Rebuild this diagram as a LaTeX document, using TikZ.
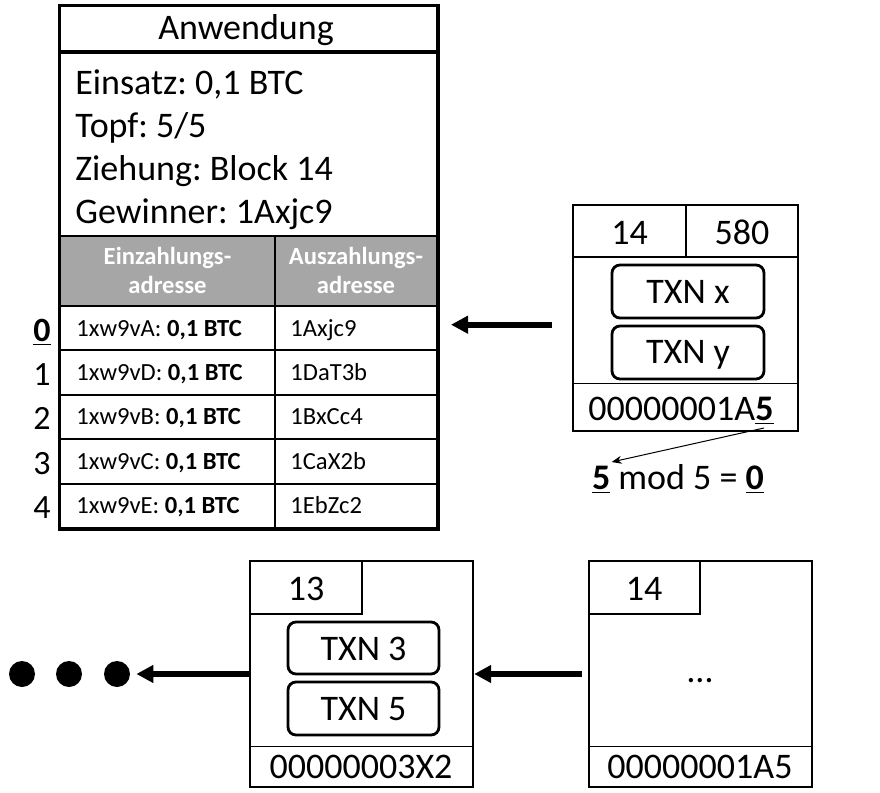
\documentclass[tikz,border=0pt]{standalone}
\usepackage{fontspec}
\setmainfont{Carlito}
\usetikzlibrary{fit,arrows.meta}
\definecolor{headgray}{RGB}{166,166,166}
\newcommand{\bigtext}{\fontsize{18}{21}\selectfont}
\newcommand{\idxtext}{\fontsize{17}{20}\selectfont}
\newcommand{\smalltext}{\fontsize{12.3}{14.5}\selectfont}
\frenchspacing

\begin{document}
\begin{tikzpicture}[x=0.5pt, y=-0.5pt,
    frame/.style={draw, line width=1.2pt, inner sep=0pt},
    cell/.style={draw, line width=1pt, inner sep=0pt},
    rule/.style={line width=0.5pt},
    txn/.style={draw, line width=1.4pt, rounded corners=4pt, inner sep=0pt},
    txt/.style={font=\bigtext, inner sep=0pt, anchor=base},
    headtxt/.style={txt, font=\smalltext\bfseries, text=white},
    link/.style={-{Triangle[length=8.5pt, width=8.5pt]}, line width=3pt},
    hint/.style={-{Stealth[length=5pt, width=4pt]}, line width=0.5pt},
    dot/.style={circle, fill, inner sep=0pt, minimum size=13pt}]

    \useasboundingbox (0,0) rectangle (880,793);

    % Anwendung
    \node[cell, fit={(60,6) (437,51)}] (title) {};
    \node[txt] (titletxt) at (246,39) {Anwendung};
    \node[cell, fit={(60,51) (437,236)}] (info) {};
    \node[txt, anchor=base west] (einsatz) at (75,94) {Einsatz: 0,1 BTC};
    \node[txt, anchor=base west] (topf) at (75,137) {Topf: 5/5};
    \node[txt, anchor=base west] (ziehung) at (75,180) {Ziehung: Block 14};
    \node[txt, anchor=base west] (gewinner) at (75,223) {Gewinner: 1Axjc9};
    \node[cell, fill=headgray, fit={(60,236) (275,306)}] (headin) {};
    \node[cell, fill=headgray, fit={(275,236) (437,306)}] (headout) {};
    \node[headtxt] (headin1) at (167.5,264) {Einzahlungs-};
    \node[headtxt] (headin2) at (167.5,293) {adresse};
    \node[headtxt] (headout1) at (356,264) {Auszahlungs-};
    \node[headtxt] (headout2) at (356,293) {adresse};
    \foreach \a/\b/\idx [count=\n from 0] in {A/1Axjc9/\underline{\textbf{0}},
        D/1DaT3b/1, B/1BxCc4/2, C/1CaX2b/3, E/1EbZc2/4} {
        \pgfmathsetmacro{\rowtop}{306+44.4*\n}
        \pgfmathsetmacro{\rowbot}{\rowtop+44.4}
        \pgfmathsetmacro{\rowbase}{\rowtop+30}
        \pgfmathsetmacro{\idxbase}{\rowtop+35}
        \node[cell, fit={(60,\rowtop) (275,\rowbot)}] (in\n) {};
        \node[cell, fit={(275,\rowtop) (437,\rowbot)}] (out\n) {};
        \node[txt, font=\smalltext, anchor=base west] (inaddr\n) at (76,\rowbase) {1xw9v\a: \textbf{0,1 BTC}};
        \node[txt, font=\smalltext, anchor=base west] (outaddr\n) at (290,\rowbase) {\b};
        \node[txt, font=\idxtext] (idx\n) at (42,\idxbase) {\idx};
    }
    \draw[line width=1.5pt] (title.north west) rectangle (out4.south east);
    \draw[line width=1.5pt] (title.south west) -- (title.south east);

    % block 14 (oben)
    \node[cell, fit={(573,205) (686,257)}] (numcellA) {};
    \node[cell, fit={(686,205) (798,257)}] (noncecellA) {};
    \node[frame, fit={(573,205) (798,431)}] (blkA) {};
    \node[txt] (numA) at (629.5,244) {14};
    \node[txt] (nonceA) at (742,244) {580};
    \node[txn, fit={(612,265) (764,318)}] (txnx) {};
    \node[txt] (txnxtxt) at (688,303) {TXN x};
    \node[txn, fit={(612,326) (764,379)}] (txny) {};
    \node[txt] (txnytxt) at (688,363) {TXN y};
    \draw[rule] (573,383) -- (798,383);
    \node[txt] (hashA) at (681,420) {00000001A\underline{\textbf{5}}};
    \node[txt] (modtxt) at (678,489) {\underline{\textbf{5}} mod 5 = \underline{\textbf{0}}};
    \coordinate (digit) at (764,428);
    \draw[hint] (digit) -- ([xshift=10pt, yshift=0.8pt]modtxt.north west);

    % block 13
    \node[cell, fit={(250,561) (362,614)}] (numcellB) {};
    \node[frame, fit={(250,561) (473,787)}] (blkB) {};
    \node[txt] (numB) at (306,600) {13};
    \node[txn, fit={(288,622) (439,674)}] (txn3) {};
    \node[txt] (txn3txt) at (363.5,660) {TXN 3};
    \node[txn, fit={(288,682) (439,735)}] (txn5) {};
    \node[txt] (txn5txt) at (363.5,720) {TXN 5};
    \draw[rule] (250,746) -- (473,746);
    \node[txt] (hashB) at (361,778) {00000003X2};

    % block 14 (unten)
    \node[cell, fit={(589,561) (700,614)}] (numcellC) {};
    \node[frame, fit={(589,561) (812,787)}] (blkC) {};
    \node[txt] (numC) at (644,600) {14};
    \node[txt] (restC) at (700,682) {…};
    \draw[rule] (589,746) -- (812,746);
    \node[txt] (hashC) at (700,778) {00000001A5};

    % Punkte
    \foreach \x [count=\k] in {22,69,117}
        \node[dot] (dot\k) at (\x,674) {};

    % Verkettung
    \draw[link] ([xshift=-10pt, yshift=1.75pt]blkA.west |- out0.east) -- ([xshift=6.5pt, yshift=1.75pt]out0.east);
    \draw[link] ([xshift=-3pt]blkC.west) -- (blkB.east);
    \draw[link] (blkB.west) -- ([xshift=3pt]dot3.east);
\end{tikzpicture}
\end{document}
